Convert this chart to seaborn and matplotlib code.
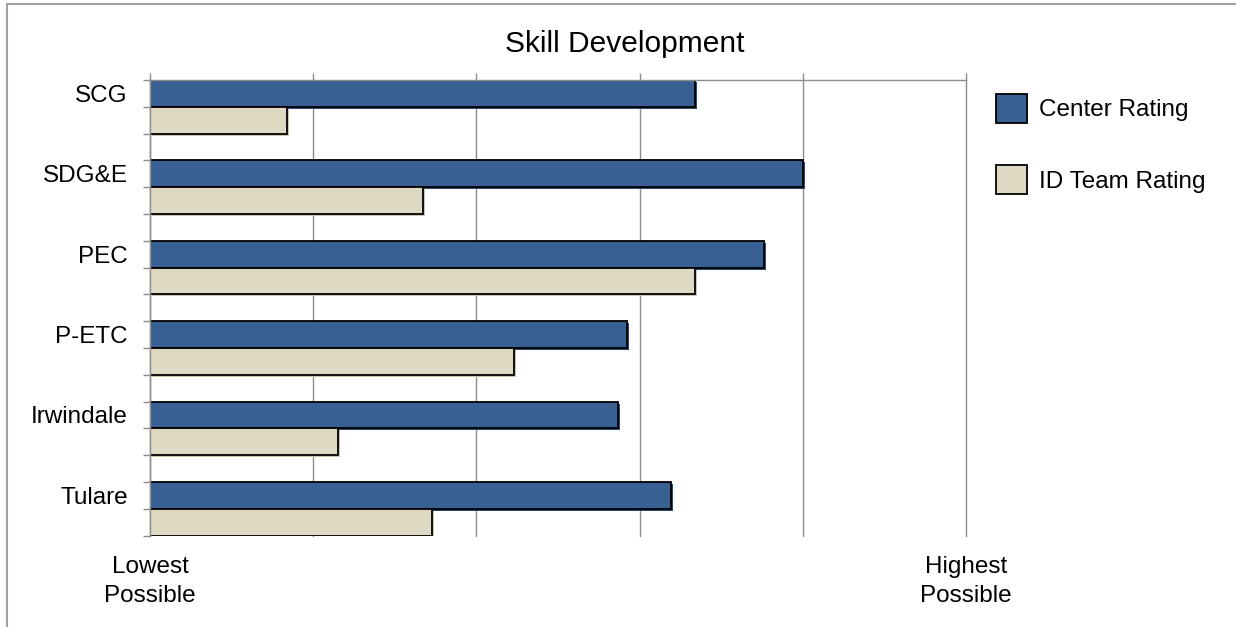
import matplotlib
matplotlib.use("Agg")
import matplotlib.pyplot as plt
import matplotlib.patheffects as pe
from matplotlib.lines import Line2D
import numpy as np
import pandas as pd
import seaborn as sns

categories = ["SCG", "SDG&E", "PEC", "P-ETC", "Irwindale", "Tulare"]
center_rating = [3.34, 4.00, 3.76, 2.92, 2.87, 3.19]
id_team_rating = [0.84, 1.67, 3.34, 2.23, 1.15, 1.73]
series_names = ["Center Rating", "ID Team Rating"]
x_tick_labels = ["Lowest\nPossible", "", "", "", "", "Highest\nPossible"]
title = "Skill Development"

sns.set_theme(style="white")
plt.rcParams["font.family"] = ["Liberation Sans", "DejaVu Sans"]
plt.rcParams["text.color"] = "black"
plt.rcParams["xtick.labelcolor"] = "black"
plt.rcParams["ytick.labelcolor"] = "black"

df = pd.DataFrame({
    "Site": categories * 2,
    "Rating": center_rating + id_team_rating,
    "Series": [series_names[0]] * len(categories) + [series_names[1]] * len(categories),
})

W, H, DPI = 1236, 627, 100
FS = 17.5
fig = plt.figure(figsize=(W / DPI, H / DPI), dpi=DPI)
ax = fig.add_axes([150 / W, 1 - 535.5 / H, (966 - 150) / W, (535.5 - 80) / H])

colors = ["#386092", "#DDD9C3"]
shadows = ["#2a4a75", "#c9c5b0"]
palette = dict(zip(series_names, colors))
sns.barplot(data=df, y="Site", x="Rating", hue="Series", hue_order=series_names,
            palette=palette, orient="h", width=2 / 3, ax=ax,
            edgecolor="black", linewidth=1.3, saturation=1, errorbar=None)

for cont, sh in zip(ax.containers, shadows):
    for bar in cont:
        bar.set_path_effects([pe.SimplePatchShadow(offset=(1.5, -1.5), shadow_rgbFace=sh, alpha=1),
                              pe.Normal()])

n = len(categories)
grid_c = "#8c8c8c"

ax.set_xticks(range(6))
ax.set_xticklabels(x_tick_labels, fontsize=FS, linespacing=1.37)
ax.tick_params(axis="x", bottom=False, top=True, labelbottom=True, labeltop=False,
               direction="out", length=5, width=1, color=grid_c, pad=10)
ax.grid(axis="x", color=grid_c, linewidth=1)
ax.grid(axis="y", visible=False)
ax.set_axisbelow(True)

ax.set_yticks([i - 1 / 6 for i in range(n)])
ax.set_yticklabels(categories, fontsize=FS)
ax.tick_params(axis="y", which="major", length=0, pad=16)
ax.set_yticks(np.arange(-1, 3 * n - 1) / 3, minor=True)
ax.tick_params(axis="y", which="minor", left=True, direction="out", length=5, width=1, color=grid_c)

ax.set_xlim(0, 5)
ax.set_ylim(n - 1 + 1 / 3, -1 / 3)
for gl in ax.get_xgridlines():
    gl.set_clip_on(False)

for s in ["bottom", "right"]:
    ax.spines[s].set_visible(False)
for s in ["top", "left"]:
    ax.spines[s].set_color(grid_c)
    ax.spines[s].set_linewidth(1)
ax.set_xlabel("")
ax.set_ylabel("")

handles, labels = ax.get_legend_handles_labels()
leg = ax.legend(handles, labels, loc="upper left",
                bbox_to_anchor=(996 / W, 1 - 94 / H), bbox_transform=fig.transFigure,
                frameon=False, fontsize=FS, handlelength=1.28, handleheight=1.45,
                handletextpad=0.5, labelspacing=1.75, borderpad=0, borderaxespad=0)
for t in leg.get_texts():
    t.set_color("black")

fig.text(625 / W, 1 - 44 / H, title, ha="center", va="center", fontsize=21.5, color="black")

# outer chart frame (top and left edges visible in the crop)
fig.add_artist(Line2D([7 / W, 7 / W], [0, 1 - 4 / H], transform=fig.transFigure, color="#a0a0a0", lw=1.5))
fig.add_artist(Line2D([7 / W, 1], [1 - 4 / H, 1 - 4 / H], transform=fig.transFigure, color="#a0a0a0", lw=1.5))

fig.savefig("out.png", dpi=DPI)
